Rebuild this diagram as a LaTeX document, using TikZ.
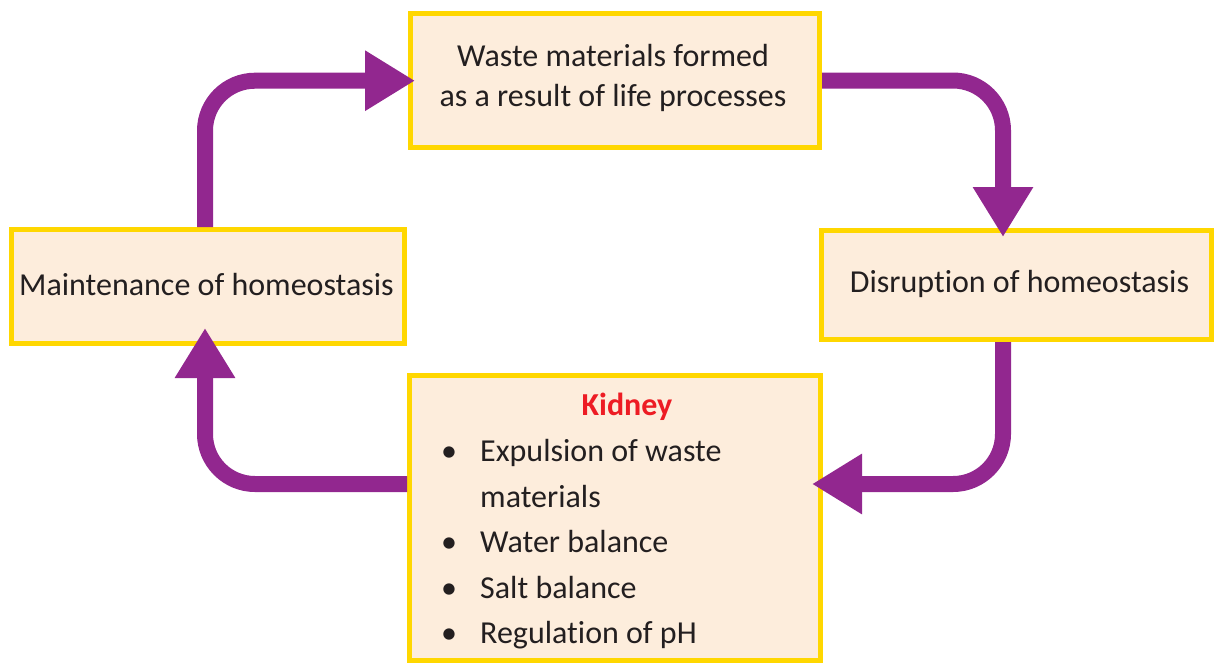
\documentclass[tikz,border=0pt]{standalone}
\usepackage{fontspec}
\setmainfont{Carlito}[Ligatures=NoCommon]
\usetikzlibrary{arrows.meta}
\definecolor{arrowpurple}{HTML}{92278F}
\definecolor{boxyellow}{HTML}{FFD700}
\definecolor{boxfill}{HTML}{FDEDDC}
\definecolor{textdark}{HTML}{231F20}
\definecolor{kidneyred}{HTML}{ED1C24}
\begin{document}
\begin{tikzpicture}[x=1pt,y=-1pt,
  box/.style={draw=boxyellow, fill=boxfill, line width=5pt, rectangle, inner sep=0pt},
  txt/.style={text=textdark, inner sep=0pt, font=\fontsize{32pt}{40pt}\selectfont},
  arr/.style={draw=arrowpurple, line width=16pt, rounded corners=50pt,
    -{Triangle[length=50pt,width=57pt]}}]
\useasboundingbox (0,0) rectangle (1214,662);

% boxes
\node[box, minimum width=409.5pt, minimum height=133.5pt] (T) at (614.75,80.25) {};
\node[box, minimum width=392.5pt, minimum height=114pt] (L) at (207.75,286.5) {};
\node[box, minimum width=389.5pt, minimum height=109.5pt] (R) at (1016.25,284.75) {};
\node[box, minimum width=411pt, minimum height=284.5pt] (K) at (615,517.75) {};

% texts
\node[txt, align=center] (tT) at (613,78) {Waste materials formed\\as a result of life processes};
\node[txt, anchor=base] (tL) at (206.5,295) {Maintenance of homeostasis};
\node[txt, anchor=base] (tR) at (1019.5,292) {Disruption of homeostasis};
\node[txt, anchor=base, text=kidneyred, font=\fontsize{32pt}{40pt}\selectfont\bfseries] (tK) at (627,415) {Kidney};
\foreach \y/\t [count=\i] in {461.5/Expulsion of waste, 507/materials, 552.5/Water balance, 598/Salt balance, 643.5/Regulation of pH}{
  \node[txt, anchor=base west] (k\i) at (480,\y) {\t};
}
\foreach \y [count=\i] in {461.5, 552.5, 598, 643.5}{
  \node[txt, anchor=base] (b\i) at (449,\y) {•};
}

% connector corners and free ends
\coordinate (c1) at (205,80.7);
\coordinate (tip1) at (415,80.7);
\coordinate (c2) at (1003,80.5);
\coordinate (tip2) at (1003,237);
\coordinate (c3) at (1003,484);
\coordinate (tip3) at (812,484);
\coordinate (c4) at (205,484);
\coordinate (tip4) at (205,328);

\draw[arr] (L.north -| c1) -- (c1) -- (tip1);
\draw[arr] (T.east |- c2) -- (c2) -- (tip2);
\draw[arr] (R.south -| c3) -- (c3) -- (tip3);
\draw[arr] (K.west |- c4) -- (c4) -- (tip4);
\end{tikzpicture}
\end{document}
